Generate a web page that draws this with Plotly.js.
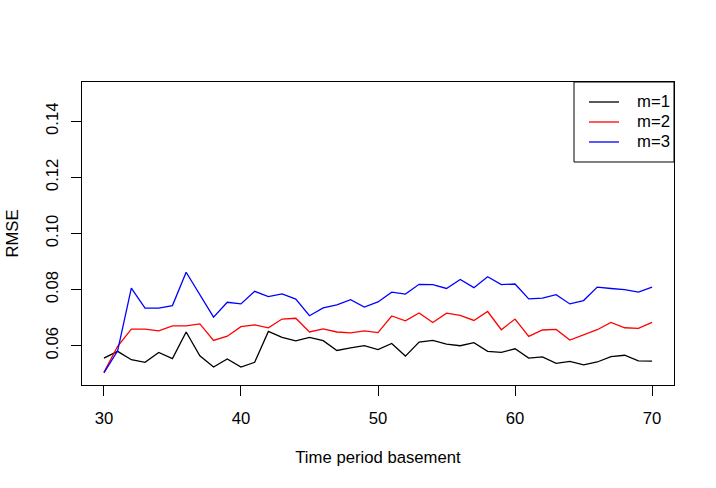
<!DOCTYPE html>
<html>
<head>
<meta charset="utf-8">
<script src="https://cdn.plot.ly/plotly-3.0.1.min.js"></script>
<style>html,body{margin:0;padding:0;background:#fff;}</style>
</head>
<body>
<div id="chart" style="width:716px;height:488px;"></div>
<script>
const periods = [30,31,32,33,34,35,36,37,38,39,40,41,42,43,44,45,46,47,48,49,50,51,52,53,54,55,56,57,58,59,60,61,62,63,64,65,66,67,68,69,70];
const rmseM1 = [0.0556,0.0580,0.0550,0.0541,0.0576,0.0554,0.0649,0.0564,0.0524,0.0553,0.0524,0.0541,0.0651,0.0630,0.0617,0.0630,0.0618,0.0583,0.0592,0.0600,0.0586,0.0608,0.0563,0.0613,0.0619,0.0606,0.0600,0.0611,0.0580,0.0576,0.0589,0.0556,0.0560,0.0537,0.0544,0.0532,0.0542,0.0561,0.0566,0.0546,0.0545];
const rmseM2 = [0.0505,0.0598,0.0659,0.0659,0.0653,0.0671,0.0671,0.0678,0.0619,0.0634,0.0668,0.0674,0.0664,0.0695,0.0698,0.0649,0.0660,0.0649,0.0646,0.0653,0.0647,0.0706,0.0689,0.0717,0.0683,0.0716,0.0708,0.0690,0.0722,0.0657,0.0695,0.0633,0.0656,0.0658,0.0620,0.0638,0.0657,0.0683,0.0664,0.0662,0.0683];
const rmseM3 = [0.0503,0.0582,0.0805,0.0734,0.0734,0.0743,0.0862,0.0781,0.0702,0.0755,0.0749,0.0794,0.0775,0.0785,0.0766,0.0707,0.0735,0.0746,0.0764,0.0738,0.0756,0.0791,0.0784,0.0819,0.0818,0.0804,0.0836,0.0807,0.0846,0.0818,0.0820,0.0767,0.0770,0.0782,0.0749,0.0761,0.0809,0.0804,0.0800,0.0791,0.0809];
const seriesNames = ["m=1","m=2","m=3"];
const seriesColors = ["#000000","#FF0000","#0000FF"];
const xTicks = [30,40,50,60,70];
const yTicks = [0.06,0.08,0.10,0.12,0.14];
const yTickText = ["0.06","0.08","0.10","0.12","0.14"];

const FONT = "Liberation Sans, Arial, Helvetica, sans-serif";
const FS = 16.7;

const seriesValues = [rmseM1, rmseM2, rmseM3];
const traces = seriesValues.map((vals, i) => ({
  x: periods, y: vals, name: seriesNames[i], type: "scatter", mode: "lines",
  line: {color: seriesColors[i], width: 1.3}, showlegend: false
}));

// legend (R-style box) built from the series names/colours
const legRowY = [0.934, 0.868, 0.802];
const shapes = [
  {type: "rect", xref: "paper", yref: "paper", x0: 0.8311, x1: 1, y0: 0.736, y1: 1,
   line: {color: "#000", width: 1}, fillcolor: "rgba(0,0,0,0)"}
];
const annotations = [];
seriesNames.forEach((nm, i) => {
  shapes.push({type: "line", xref: "paper", yref: "paper", x0: 0.8564, x1: 0.9071,
    y0: legRowY[i], y1: legRowY[i], line: {color: seriesColors[i], width: 1.3}});
  annotations.push({xref: "paper", yref: "paper", x: 0.9341, y: legRowY[i],
    xanchor: "left", yanchor: "middle", showarrow: false, text: nm,
    font: {family: FONT, size: FS, color: "#000"}});
});

const layout = {
  width: 716, height: 488,
  margin: {l: 82, r: 42, t: 82, b: 103, pad: 0},
  paper_bgcolor: "#ffffff", plot_bgcolor: "#ffffff",
  font: {family: FONT, size: FS, color: "#000000"},
  showlegend: false,
  xaxis: {
    range: [28.4, 71.6], tickmode: "array", tickvals: xTicks, ticktext: xTicks.map(String),
    ticks: "outside", ticklen: 10, tickwidth: 1, tickcolor: "#000",
    ticklabelstandoff: 8,
    showline: true, mirror: true, linecolor: "#000", linewidth: 1,
    showgrid: false, zeroline: false,
    tickfont: {family: FONT, size: FS, color: "#000"},
    title: {text: "Time period basement", font: {family: FONT, size: FS, color: "#000"}, standoff: 24}
  },
  yaxis: {
    range: [0.046, 0.154], tickmode: "array", tickvals: yTicks, ticktext: yTickText,
    tickangle: -90,
    ticks: "outside", ticklen: 10, tickwidth: 1, tickcolor: "#000",
    ticklabelstandoff: 6,
    showline: true, mirror: true, linecolor: "#000", linewidth: 1,
    showgrid: false, zeroline: false,
    tickfont: {family: FONT, size: FS, color: "#000"},
    title: {text: "RMSE", font: {family: FONT, size: FS, color: "#000"}, standoff: 20}
  },
  shapes: shapes,
  annotations: annotations
};

Plotly.newPlot("chart", traces, layout, {displayModeBar: false, staticPlot: true});
</script>
</body>
</html>
